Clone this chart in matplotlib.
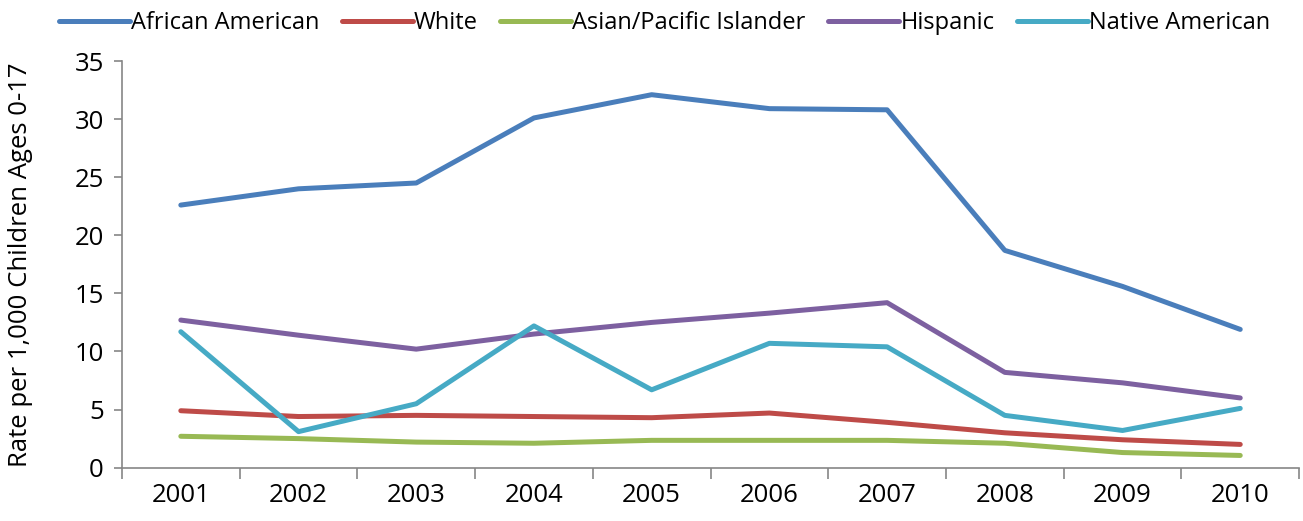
import matplotlib as mpl
mpl.use('Agg')
import matplotlib.pyplot as plt
import numpy as np

plt.rcParams['font.family'] = ['Open Sans', 'DejaVu Sans']

# chart data
years = ['2001', '2002', '2003', '2004', '2005', '2006', '2007', '2008', '2009', '2010']
african_american = [22.6, 24.0, 24.5, 30.1, 32.1, 30.9, 30.8, 18.7, 15.6, 11.9]
white = [4.9, 4.4, 4.5, 4.4, 4.3, 4.7, 3.9, 3.0, 2.4, 2.0]
asian_pacific = [2.7, 2.5, 2.2, 2.1, 2.35, 2.35, 2.35, 2.1, 1.3, 1.05]
hispanic = [12.7, 11.4, 10.2, 11.5, 12.5, 13.3, 14.2, 8.2, 7.3, 6.0]
native_american = [11.7, 3.1, 5.5, 12.2, 6.7, 10.7, 10.4, 4.5, 3.2, 5.1]

series_names = ['African American', 'White', 'Asian/Pacific Islander', 'Hispanic', 'Native American']
series_values = [african_american, white, asian_pacific, hispanic, native_american]
colors = ['#4A7EBB', '#BE4B48', '#98B954', '#7D60A0', '#46AAC5']

fig = plt.figure(figsize=(13.03, 5.21), dpi=100)
ax = fig.add_axes([0.0936, 0.1024, 0.9034, 0.7805])

x = np.arange(len(years))
for name, vals, col in zip(series_names, series_values, colors):
    ax.plot(x, vals, color=col, linewidth=3.6, label=name, solid_capstyle='round')

ax.set_xlim(-0.5, len(years) - 0.5)
ax.set_ylim(0, 35)
ax.set_yticks(np.arange(0, 36, 5))
ax.set_xticks(x)
ax.set_xticklabels(years)
# tick marks sit between categories
ax.set_xticks(np.arange(-0.5, len(years), 1), minor=True)
ax.tick_params(axis='x', which='major', length=0, pad=11, labelsize=18.5)
ax.tick_params(axis='x', which='minor', length=8, color='#868686', width=1.2)
ax.tick_params(axis='y', length=6, color='#868686', width=1.2, labelsize=18.5, pad=7)

for side in ['top', 'right']:
    ax.spines[side].set_visible(False)
for side in ['left', 'bottom']:
    ax.spines[side].set_color('#868686')
    ax.spines[side].set_linewidth(1.2)

ax.set_ylabel('Rate per 1,000 Children Ages 0-17', fontsize=18.5, labelpad=30)

fig.legend(loc='upper center', bbox_to_anchor=(0.51, 1.02), ncol=5, frameon=False,
           fontsize=17, handlelength=3.0, handletextpad=0.05, columnspacing=0.95)

fig.savefig('out.png', dpi=100)
